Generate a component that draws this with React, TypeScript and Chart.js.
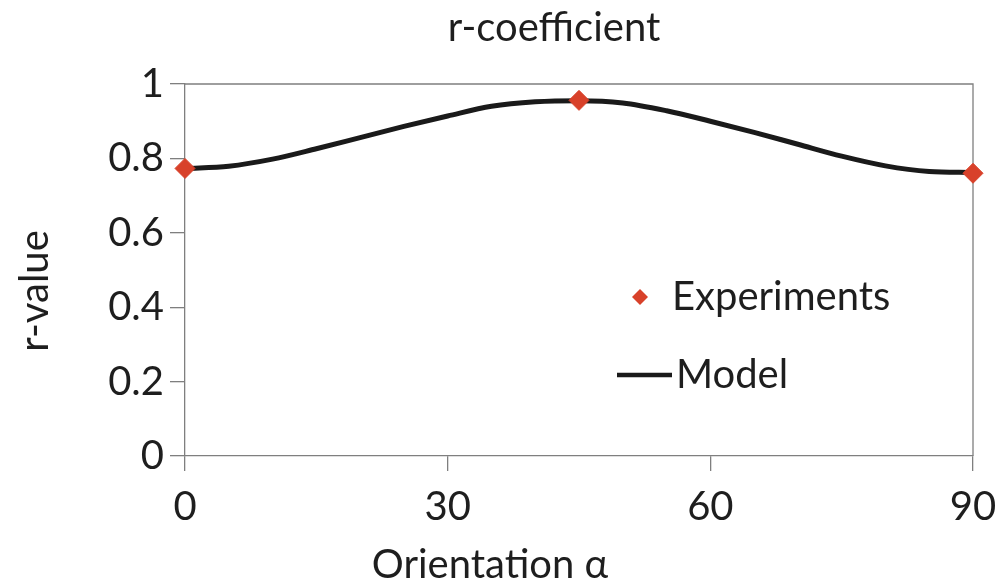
import React, { useEffect, useRef } from "react";
import { Chart, registerables } from "chart.js";

Chart.register(...registerables);

const modelAngles = [0, 5, 10, 15, 20, 25, 30, 35, 40, 45, 50, 55, 60, 65, 70, 75, 80, 85, 90];
const modelValues = [0.773, 0.779, 0.798, 0.826, 0.856, 0.886, 0.914, 0.94, 0.952, 0.955, 0.949, 0.928, 0.9, 0.87, 0.838, 0.806, 0.78, 0.765, 0.762];
const expAngles = [0, 45, 90];
const expValues = [0.773, 0.956, 0.76];
const xTicks = [0, 30, 60, 90];
const yTicks = [0, 0.2, 0.4, 0.6, 0.8, 1];
const yTickLabels = ["0", "0.2", "0.4", "0.6", "0.8", "1"];

const FONT = "Lato, 'Open Sans', sans-serif";
const RED = "#d8412a";
const AXIS = "#7f7f7f";
const TEXT = "#1e1e1e";

const decorPlugin = {
  id: "decor",
  beforeDatasetsDraw(chart: any) {
    const { ctx, chartArea } = chart;
    ctx.save();
    ctx.strokeStyle = AXIS;
    ctx.lineWidth = 1.3;
    ctx.beginPath();
    ctx.moveTo(chartArea.left, chartArea.top);
    ctx.lineTo(chartArea.right, chartArea.top);
    ctx.lineTo(chartArea.right, chartArea.bottom);
    ctx.stroke();
    ctx.restore();
  },
  afterDraw(chart: any) {
    const { ctx } = chart;
    ctx.save();
    ctx.fillStyle = TEXT;
    ctx.font = `40px ${FONT}`;
    ctx.textAlign = "center";
    ctx.textBaseline = "middle";
    ctx.fillText("r-coefficient", 554, 28);
    ctx.fillText("Orientation \u03b1", 490, 565);
    ctx.save();
    ctx.translate(35, 291);
    ctx.rotate(-Math.PI / 2);
    ctx.fillText("r-value", 0, 0);
    ctx.restore();
    // legend
    ctx.textAlign = "left";
    ctx.fillStyle = RED;
    ctx.beginPath();
    ctx.moveTo(640, 289);
    ctx.lineTo(648, 297);
    ctx.lineTo(640, 305);
    ctx.lineTo(632, 297);
    ctx.closePath();
    ctx.fill();
    ctx.fillStyle = TEXT;
    ctx.fillText("Experiments", 672, 297);
    ctx.strokeStyle = "#1a1a1a";
    ctx.lineWidth = 4.5;
    ctx.beginPath();
    ctx.moveTo(617, 375);
    ctx.lineTo(672, 375);
    ctx.stroke();
    ctx.fillText("Model", 676, 375);
    ctx.restore();
  },
};

export default function App() {
  const ref = useRef<HTMLCanvasElement | null>(null);
  useEffect(() => {
    if (!ref.current) return;
    const chart = new Chart(ref.current, {
      type: "scatter",
      data: {
        datasets: [
          {
            label: "Experiments",
            data: expAngles.map((x, i) => ({ x, y: expValues[i] })),
            backgroundColor: RED,
            borderColor: RED,
            pointStyle: "rectRot",
            pointRadius: 10,
            showLine: false,
            clip: false,
            order: 0,
          },
          {
            label: "Model",
            data: modelAngles.map((x, i) => ({ x, y: modelValues[i] })),
            borderColor: "#1a1a1a",
            borderWidth: 5,
            pointRadius: 0,
            showLine: true,
            cubicInterpolationMode: "monotone",
            clip: false,
            order: 1,
          } as any,
        ],
      },
      options: {
        animation: false,
        responsive: false,
        maintainAspectRatio: false,
        layout: { padding: { left: 0, top: 84, right: 29, bottom: 0 } },
        plugins: { legend: { display: false }, tooltip: { enabled: false }, title: { display: false } },
        scales: {
          x: {
            type: "linear",
            min: 0,
            max: 90,
            afterBuildTicks: (s: any) => {
              s.ticks = xTicks.map((v) => ({ value: v }));
            },
            afterFit: (s: any) => {
              s.height = 130;
              s.paddingLeft = 0;
              s.paddingRight = 0;
            },
            ticks: { color: TEXT, font: { family: FONT, size: 40 }, padding: 12, maxRotation: 0 },
            grid: { drawOnChartArea: false, drawTicks: true, tickLength: 15, color: AXIS, lineWidth: 1.3 },
            border: { display: true, color: AXIS, width: 1.3 },
          },
          y: {
            type: "linear",
            min: 0,
            max: 1,
            afterBuildTicks: (s: any) => {
              s.ticks = yTicks.map((v) => ({ value: v }));
            },
            afterFit: (s: any) => {
              s.width = 185;
              s.paddingTop = 0;
              s.paddingBottom = 0;
            },
            ticks: {
              color: TEXT,
              font: { family: FONT, size: 40 },
              padding: 6,
              callback: (_v: any, i: number) => yTickLabels[i],
            },
            grid: { drawOnChartArea: false, drawTicks: true, tickLength: 15, color: AXIS, lineWidth: 1.3 },
            border: { display: true, color: AXIS, width: 1.3 },
          },
        },
      } as any,
      plugins: [decorPlugin],
    });
    return () => chart.destroy();
  }, []);
  return (
    <div style={{ position: "absolute", left: 0, top: 0, width: 1002, height: 586, background: "#fff" }}>
      <canvas ref={ref} width={1002} height={586} style={{ width: 1002, height: 586 }} />
    </div>
  );
}
